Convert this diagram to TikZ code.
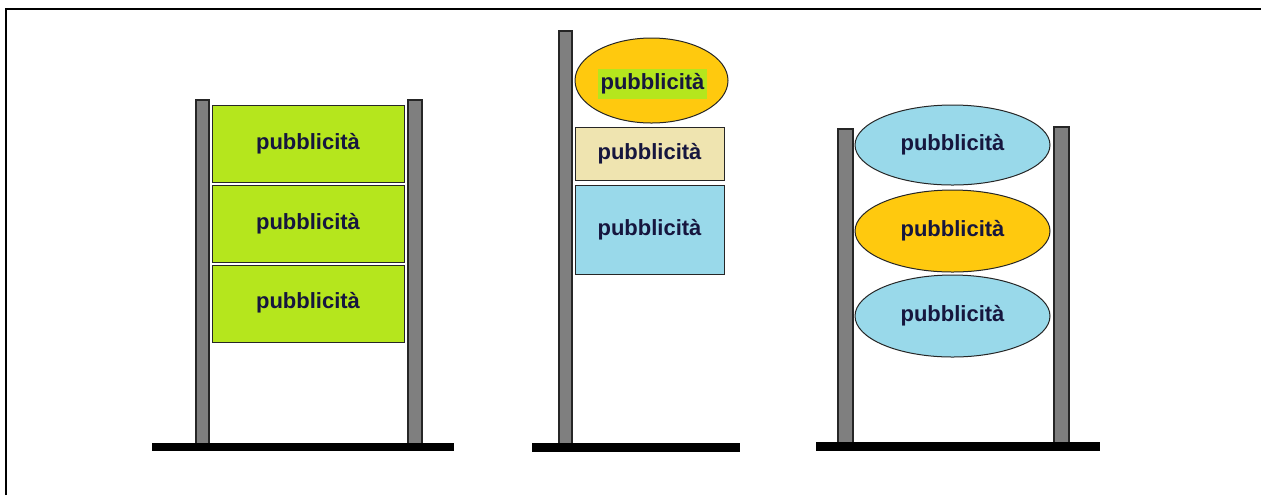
\documentclass[tikz,border=0pt]{standalone}
\usepackage{fontspec}
\newfontfamily\adfont{Liberation Sans}
\usetikzlibrary{shapes.geometric}
\definecolor{adgreen}{RGB}{181,230,29}
\definecolor{adorange}{RGB}{255,201,14}
\definecolor{adbeige}{RGB}{239,228,176}
\definecolor{adblue}{RGB}{153,217,234}
\definecolor{postgray}{RGB}{127,127,127}
\definecolor{inkblue}{RGB}{22,22,62}
\begin{document}
\begin{tikzpicture}[x=0.5pt,y=-0.5pt,
    post/.style={fill=postgray,draw=black!85,line width=0.6pt},
    ground/.style={fill=black},
    panel/.style={draw=black!85,line width=0.5pt,inner sep=0pt,outer sep=0pt,
      font=\adfont\bfseries\fontsize{11pt}{13pt}\selectfont,text=inkblue},
    oval/.style={panel,ellipse}]
    \useasboundingbox (0,0) rectangle (1261,495);
    \draw[line width=1pt] (6,495) -- (6,9) -- (1261,9);
    % left sign
    \filldraw[post] (196,100) rectangle (209,445);
    \filldraw[post] (408,100) rectangle (422,445);
    \node[panel,fill=adgreen,minimum width=96pt,minimum height=38.5pt] (lefttop) at (308,143.5) {pubblicità};
    \node[panel,fill=adgreen,minimum width=96pt,minimum height=38.5pt] (leftmid) at (308,223.5) {pubblicità};
    \node[panel,fill=adgreen,minimum width=96pt,minimum height=38.5pt] (leftbot) at (308,303.5) {\raisebox{3pt}{pubblicità}};
    \fill[ground] (152,443) rectangle (454,451);
    % middle sign
    \filldraw[post] (559,31) rectangle (572,445);
    \node[oval,fill=adorange,minimum width=76.5pt,minimum height=42.5pt] (midoval) at (651.5,80.5) {};
    \node[panel,draw=none,fill=adgreen,minimum width=54.5pt,minimum height=15pt] (midovaltext) at (652.5,84) {pubblicità};
    \node[panel,fill=adbeige,minimum width=74.5pt,minimum height=26.5pt] (midbeige) at (649.5,153.5) {pubblicità};
    \node[panel,fill=adblue,minimum width=74.5pt,minimum height=44.5pt] (midblue) at (649.5,229.5) {\raisebox{1.5pt}{pubblicità}};
    \fill[ground] (532,443) rectangle (740,452);
    % right sign
    \filldraw[post] (838,129) rectangle (853,445);
    \filldraw[post] (1054,127) rectangle (1069,445);
    \node[oval,fill=adblue,minimum width=97.5pt,minimum height=40pt] (righttop) at (952.5,145) {pubblicità};
    \node[oval,fill=adorange,minimum width=97.5pt,minimum height=41pt] (rightmid) at (952.5,231) {pubblicità};
    \node[oval,fill=adblue,minimum width=97.5pt,minimum height=41pt] (rightbot) at (952.5,316) {\raisebox{1.5pt}{pubblicità}};
    \fill[ground] (816,442) rectangle (1100,451);
\end{tikzpicture}
\end{document}
